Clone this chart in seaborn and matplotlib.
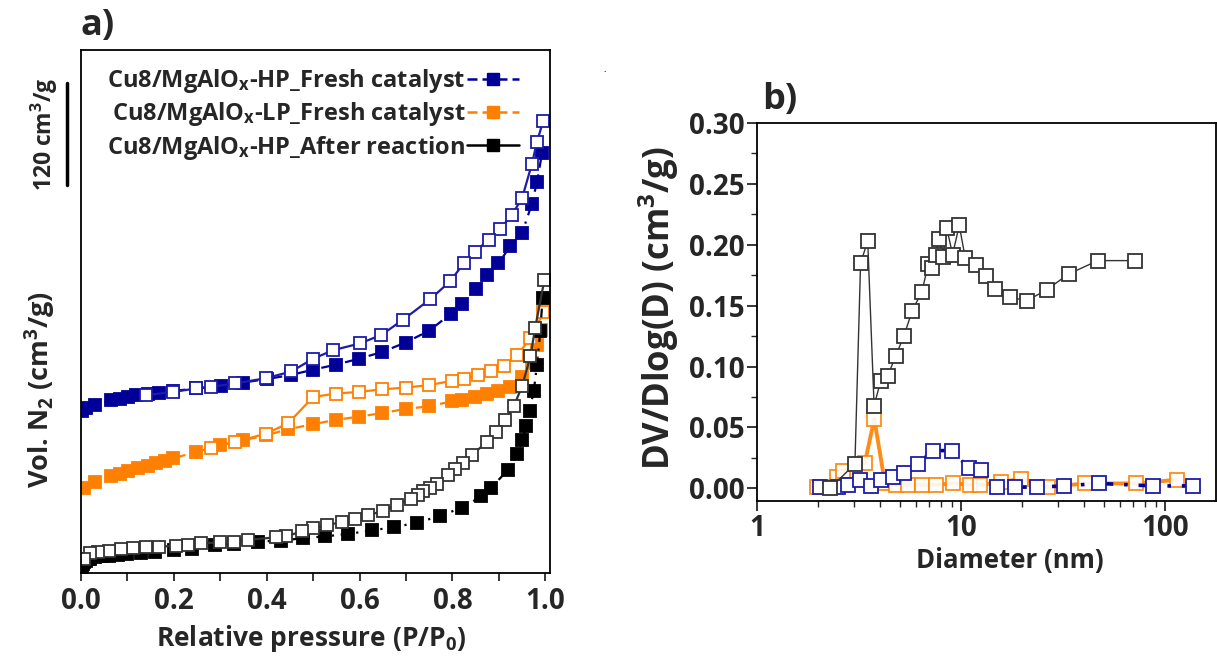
import numpy as np
import matplotlib
matplotlib.use("Agg")
import matplotlib.pyplot as plt
import seaborn as sns
from matplotlib.lines import Line2D
from matplotlib.ticker import MultipleLocator, LogLocator, NullFormatter
import matplotlib.transforms as mtransforms

# ---- a) N2 isotherms (offset, arbitrary origin, cm3/g) ----
hp_ads_p = [0.002, 0.011, 0.031, 0.065, 0.083, 0.101, 0.119, 0.144, 0.169, 0.198, 0.248, 0.302, 0.349, 0.40,
            0.453, 0.499, 0.549, 0.599, 0.649, 0.699, 0.750, 0.797, 0.821, 0.850, 0.874, 0.899, 0.924, 0.950,
            0.971, 0.982, 0.993]
hp_ads_v = [190, 194, 198, 203, 205, 207, 209, 211, 212, 214, 217, 220, 224, 228,
            233, 239, 245, 252, 260, 271, 285, 305, 316, 334, 350, 364, 384, 400,
            434, 460, 494]
hp_des_p = [0.995, 0.982, 0.971, 0.950, 0.928, 0.903, 0.878, 0.849, 0.824, 0.795, 0.752, 0.694, 0.647,
            0.601, 0.543, 0.500, 0.453, 0.398, 0.332, 0.281, 0.248, 0.199, 0.140]
hp_des_v = [531, 507, 481, 441, 421, 405, 392, 378, 364, 343, 322, 298, 280,
            270, 262, 252, 237, 229, 223, 219, 217, 213, 209]

lp_ads_p = [0.007, 0.031, 0.065, 0.083, 0.101, 0.122, 0.144, 0.162, 0.180, 0.198, 0.248, 0.299, 0.349, 0.399,
            0.446, 0.499, 0.549, 0.599, 0.649, 0.699, 0.750, 0.799, 0.820, 0.849, 0.874, 0.899, 0.924, 0.950,
            0.971, 0.982, 0.991]
lp_ads_v = [100, 107, 114, 117, 120, 123, 126, 129, 132, 135, 142, 150, 156, 162,
            169, 175, 180, 184, 188, 193, 196, 202, 203, 207, 211, 214, 219, 231,
            247, 268, 286]
lp_des_p = [0.996, 0.968, 0.939, 0.910, 0.883, 0.856, 0.824, 0.799, 0.750, 0.699, 0.649, 0.599, 0.549,
            0.500, 0.446, 0.399, 0.332, 0.281]
lp_des_v = [307, 276, 256, 243, 238, 233, 228, 226, 221, 218, 216, 213, 211,
            207, 176, 164, 154, 147]

ar_ads_p = [0.0005, 0.001, 0.002, 0.004, 0.007, 0.01, 0.015, 0.02, 0.03, 0.045, 0.06, 0.08, 0.1, 0.13,
            0.16, 0.2, 0.24, 0.288, 0.33, 0.381, 0.43, 0.478, 0.525, 0.576, 0.626, 0.674, 0.723, 0.773,
            0.821, 0.862, 0.883, 0.919, 0.939, 0.950, 0.959, 0.966, 0.975, 0.982, 0.989, 0.994]
ar_ads_v = [2, 5, 8, 11, 13, 14.5, 16, 17, 18.5, 19.5, 20.5, 21.5, 22.5, 24,
            25, 26.5, 28, 33, 34, 37, 38, 41, 43, 46, 50, 54, 59, 67,
            77, 90, 100, 121, 140, 156, 173, 191, 214, 245, 284, 323]
ar_des_p = [0.998, 0.978, 0.968, 0.950, 0.932, 0.914, 0.894, 0.874, 0.842, 0.822, 0.806, 0.791, 0.766,
            0.752, 0.737, 0.725, 0.710, 0.680, 0.650, 0.619, 0.590, 0.561, 0.529, 0.500, 0.475, 0.442,
            0.421, 0.360, 0.329, 0.299, 0.259, 0.230, 0.204, 0.168, 0.139, 0.112, 0.086, 0.060, 0.036,
            0.020, 0.007]
ar_des_v = [345, 288, 255, 220, 196, 180, 166, 154, 139, 129, 122, 115, 105,
            100, 96, 92, 87, 80, 73, 68, 64, 60, 56, 53, 49, 43,
            42, 39, 37, 36, 35, 33, 32, 31, 30, 29, 28, 26, 25,
            23, 17]

# ---- b) pore size distribution ----
ar_d = [2.28, 3.02, 3.22, 3.49, 3.75, 4.04, 4.37, 4.79, 5.25, 5.77, 6.42, 6.92, 7.18, 7.52, 7.80,
        8.19, 8.51, 9.10, 9.81, 10.5, 11.8, 13.2, 14.7, 17.4, 21.0, 26.3, 33.7, 46.9, 71.3]
ar_dv = [0.000, 0.020, 0.185, 0.203, 0.068, 0.088, 0.092, 0.109, 0.125, 0.146, 0.161, 0.184, 0.181, 0.192,
         0.205, 0.190, 0.214, 0.192, 0.216, 0.189, 0.183, 0.174, 0.164, 0.157, 0.154, 0.163, 0.176,
         0.187, 0.187]
lp_d = [1.96, 2.46, 2.65, 3.38, 3.76, 4.24, 4.80, 5.52, 6.42, 7.54, 9.17, 11.1, 12.4, 15.8, 19.8,
        26.8, 40.5, 72.1, 114]
lp_dv = [0.001, 0.009, 0.014, 0.021, 0.057, 0.004, 0.003, 0.003, 0.003, 0.003, 0.004, 0.003, 0.003,
         0.005, 0.008, 0.001, 0.004, 0.004, 0.007]
hp_d = [2.04, 2.50, 2.80, 3.20, 3.62, 4.05, 4.63, 5.28, 6.13, 7.31, 9.00, 10.9, 12.6, 15.0, 18.4,
        23.7, 32.0, 47.7, 87.1, 138]
hp_dv = [0.001, 0.001, 0.003, 0.007, 0.002, 0.007, 0.009, 0.013, 0.020, 0.031, 0.031, 0.017, 0.015,
         0.001, 0.001, 0.001, 0.002, 0.004, 0.002, 0.002]

labels = [r"Cu8/MgAlO$_\mathregular{x}$-HP_Fresh catalyst",
          r"Cu8/MgAlO$_\mathregular{x}$-LP_Fresh catalyst",
          r"Cu8/MgAlO$_\mathregular{x}$-HP_After reaction"]

BLUE = "#000099"
BLUE_O = "#1c1ca8"
ORANGE = "#ff8000"
BLACK = "#000000"
GREY = "#333333"

sns.set_style("ticks")
plt.rcParams["font.family"] = ["Open Sans", "DejaVu Sans"]
plt.rcParams["font.weight"] = "bold"
plt.rcParams["mathtext.fontset"] = "custom"
plt.rcParams["mathtext.rm"] = "Open Sans:bold"
plt.rcParams["mathtext.it"] = "Open Sans:bold"
plt.rcParams["mathtext.bf"] = "Open Sans:bold"
plt.rcParams["axes.linewidth"] = 1.3

fig = plt.figure(figsize=(12.17, 6.61), dpi=100)
W, H = 1217, 661
axa = fig.add_axes([81 / W, 1 - 573 / H, (550 - 81) / W, (573 - 50) / H])
axb = fig.add_axes([757 / W, 1 - 501 / H, (1216 - 757) / W, (501 - 123) / H])

dashdot = (0, (4, 3, 1, 3))
ms = 9

def iso(ax, x, y, color, filled, ls):
    sns.lineplot(x=x, y=y, ax=ax, color=color, lw=1.6, linestyle=ls, marker="s", ms=ms,
                 mfc=color if filled else "white", mec=color, mew=1.3,
                 estimator=None, sort=False)

iso(axa, hp_ads_p, hp_ads_v, BLUE, True, dashdot)
iso(axa, hp_des_p, hp_des_v, BLUE_O, False, "-")
iso(axa, lp_ads_p, lp_ads_v, ORANGE, True, dashdot)
iso(axa, lp_des_p, lp_des_v, ORANGE, False, "-")
iso(axa, ar_ads_p, ar_ads_v, BLACK, True, dashdot)
iso(axa, ar_des_p, ar_des_v, GREY, False, "-")

axa.set_xlim(0, 1.01)
axa.set_ylim(0, 615)
axa.set_yticks([])
axa.xaxis.set_major_locator(MultipleLocator(0.2))
axa.xaxis.set_minor_locator(MultipleLocator(0.1))
axa.xaxis.set_major_formatter(matplotlib.ticker.FormatStrFormatter("%.1f"))
axa.tick_params(axis="x", which="major", direction="out", length=6, width=1.3,
                labelsize=20, pad=4)
axa.tick_params(axis="x", which="minor", direction="out", length=6, width=1.3)
axa.set_xlabel(r"Relative pressure (P/P$_\mathregular{0}$)", fontsize=19, fontweight="bold")
axa.set_ylabel(r"Vol. N$_\mathregular{2}$ (cm$^\mathregular{3}$/g)", fontsize=19.5, fontweight="bold")
axa.xaxis.set_label_coords(0.49, -0.095)
axa.yaxis.set_label_coords(-0.05, 0.35)
for s in axa.spines.values():
    s.set_visible(True)
    s.set_linewidth(1.3)
    s.set_color("black")

# scale bar
tr = mtransforms.blended_transform_factory(axa.transAxes, axa.transData)
axa.add_line(Line2D([-0.030, -0.030], [456, 576], transform=tr, color="black", lw=2.5, clip_on=False))
axa.text(-0.077, 516, r"120 cm$^\mathregular{3}$/g", transform=tr, rotation=90, ha="center", va="center",
         fontsize=16.5, fontweight="bold")

handles = [Line2D([], [], color=BLUE, ls=(0, (4, 2)), lw=1.8, marker="s", ms=9, mfc=BLUE, mec=BLUE),
           Line2D([], [], color=ORANGE, ls=(0, (4, 2)), lw=1.8, marker="s", ms=9, mfc=ORANGE, mec=ORANGE),
           Line2D([], [], color=BLACK, ls="-", lw=1.8, marker="s", ms=9, mfc=BLACK, mec=BLACK)]
axa.legend(handles, labels, loc="upper left", bbox_to_anchor=(0.035, 0.985), frameon=False,
           markerfirst=False, fontsize=17, handlelength=2.2, handletextpad=0.1, labelspacing=0.22,
           borderaxespad=0)

fig.text(80 / W, 1 - 26 / H, "a)", fontsize=26, fontweight="bold", va="center", ha="left")

# ---- b) ----
sns.lineplot(x=lp_d, y=lp_dv, ax=axb, color=ORANGE, lw=2.8, marker="s", ms=9.5, mfc="white",
             mec=ORANGE, mew=1.3, alpha=0.9, estimator=None, sort=False)
sns.lineplot(x=hp_d, y=hp_dv, ax=axb, color=BLUE, lw=2.6, linestyle=(0, (5, 3, 1, 3)), marker="s",
             ms=9.5, mfc="white", mec=BLUE_O, mew=1.3, estimator=None, sort=False)
sns.lineplot(x=ar_d, y=ar_dv, ax=axb, color=GREY, lw=1.0, marker="s", ms=9.5, mfc="white",
             mec=GREY, mew=1.3, estimator=None, sort=False)

axb.set_xscale("log")
axb.set_xlim(1, 178)
axb.set_ylim(-0.0104, 0.30)
axb.yaxis.set_major_locator(MultipleLocator(0.05))
axb.yaxis.set_minor_locator(MultipleLocator(0.025))
axb.yaxis.set_major_formatter(matplotlib.ticker.FormatStrFormatter("%.2f"))
axb.xaxis.set_major_locator(LogLocator(base=10, numticks=10))
axb.xaxis.set_minor_locator(LogLocator(base=10, subs=np.arange(2, 10), numticks=20))
axb.xaxis.set_minor_formatter(NullFormatter())
axb.xaxis.set_major_formatter(matplotlib.ticker.FuncFormatter(lambda v, p: "%g" % v))
axb.tick_params(which="major", direction="out", length=7, width=1.3, labelsize=20, pad=2)
axb.tick_params(which="minor", direction="out", length=4, width=1.0)
axb.set_xlabel("Diameter (nm)", fontsize=18.5, fontweight="bold")
axb.set_ylabel(r"DV/Dlog(D) (cm$^\mathregular{3}$/g)", fontsize=25, fontweight="bold")
axb.xaxis.set_label_coords(0.551, -0.122)
axb.yaxis.set_label_coords(-0.165, 0.51)
for s in axb.spines.values():
    s.set_visible(True)
    s.set_linewidth(1.3)
    s.set_color("black")

fig.text(762 / W, 1 - 100 / H, "b)", fontsize=26, fontweight="bold", va="center", ha="left")
fig.text(605 / W, 1 - 69 / H, ".", fontsize=6, ha="center", va="center")

fig.savefig("out.png", dpi=100)
